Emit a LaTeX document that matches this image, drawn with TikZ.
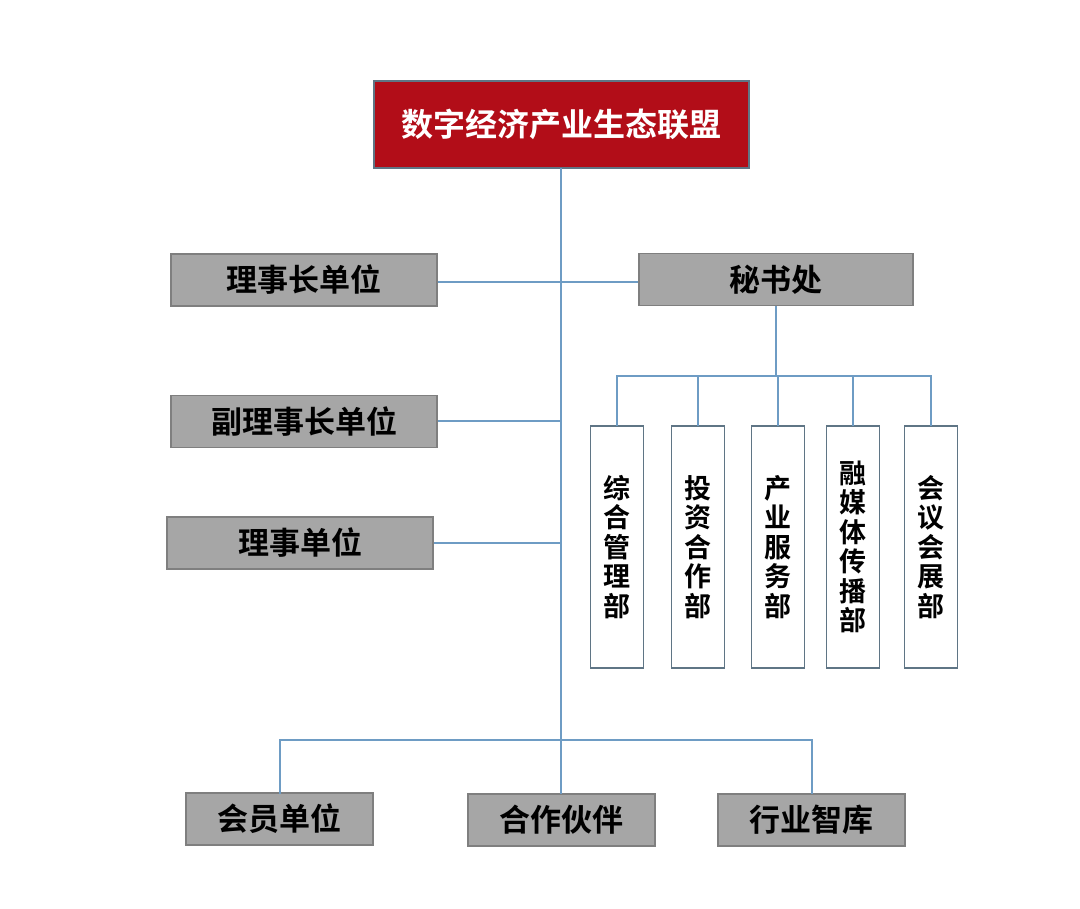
\documentclass[tikz,border=0pt]{standalone}
\usepackage{fontspec}
\setmainfont{Noto Sans CJK SC}[BoldFont={* Bold}]
\newfontfamily\cjkb{Noto Sans CJK SC Bold}
\definecolor{topred}{HTML}{B20D18}
\definecolor{boxgray}{HTML}{A6A6A6}
\definecolor{edgegray}{HTML}{7F7F7F}
\definecolor{linkblue}{HTML}{6E9CC4}
\definecolor{vedge}{HTML}{5F7585}
\begin{document}
\begin{tikzpicture}[x=1pt,y=-1pt,
  graybox/.style={draw=edgegray,line width=1.4pt,fill=boxgray,minimum height=52pt,inner sep=0pt,font=\cjkb\fontsize{31}{34}\selectfont},
  vbox/.style={draw=vedge,line width=1.6pt,fill=white,minimum width=53pt,minimum height=242pt,inner sep=0pt,align=center,font=\cjkb\fontsize{27}{29.5}\selectfont},
  link/.style={draw=linkblue,line width=2pt}]
\useasboundingbox (0,0) rectangle (1080,909);
% top
\node[draw=vedge,line width=1.5pt,fill=topred,minimum width=375pt,minimum height=87pt,inner sep=0pt,text=white,font=\cjkb\fontsize{32}{34}\selectfont] (top) at (561.5,124.5) {数字经济产业生态联盟};
% left column
\node[graybox,minimum width=266pt] (lsz) at (304,280) {理事长单位};
\node[graybox,minimum width=274pt] (msc) at (776,279.5) {秘书处};
\node[graybox,minimum width=266pt] (flsz) at (304,421.5) {副理事长单位};
\node[graybox,minimum width=266pt] (lsdw) at (300,543) {理事单位};
% bottom
\node[graybox,minimum width=187pt] (hy) at (279.5,819) {会员单位};
\node[graybox,minimum width=187pt] (hz) at (561.5,820) {合作伙伴};
\node[graybox,minimum width=187pt] (zk) at (811.5,820) {行业智库};
% vertical boxes
\node[vbox] (v1) at (617,547) {综\\合\\管\\理\\部};
\node[vbox] (v2) at (698,547) {投\\资\\合\\作\\部};
\node[vbox] (v3) at (778,547) {产\\业\\服\\务\\部};
\node[vbox] (v4) at (853,547) {融\\媒\\体\\传\\播\\部};
\node[vbox] (v5) at (931,547) {会\\议\\会\\展\\部};
% coordinates
\coordinate (j1) at (561,282);
\coordinate (j2) at (561,421);
\coordinate (j3) at (561,543);
\coordinate (jb) at (561,740);
\coordinate (bl) at (280,740);
\coordinate (br) at (812,740);
\coordinate (sj) at (776,376);
% connectors
\draw[link] (561,168) -- (561,794);
\draw[link] (lsz.east |- j1) -- (msc.west |- j1);
\draw[link] (flsz.east |- j2) -- (j2);
\draw[link] (lsdw.east |- j3) -- (j3);
\draw[link] (msc.south) -- (sj);
\draw[link] (617,426) -- (617,376) -- (931,376) -- (931,426);
\draw[link] (698,376) -- (698,426);
\draw[link] (778,376) -- (778,426);
\draw[link] (853,376) -- (853,426);
\draw[link] (280,794) -- (bl) -- (br) -- (812,794);
\end{tikzpicture}
\end{document}
